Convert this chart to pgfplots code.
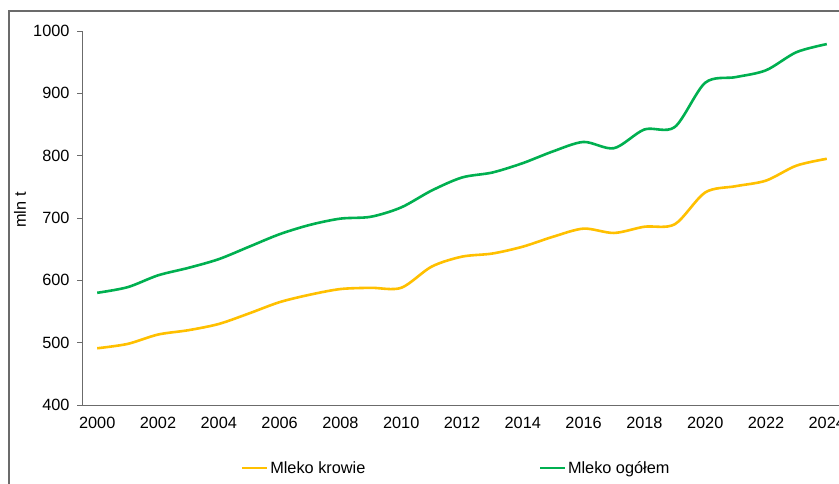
\documentclass[border=0pt]{standalone}
\usepackage{pgfplots}
\pgfplotsset{compat=1.18}
\usepackage{fontspec}
\setmainfont{Liberation Sans}
\definecolor{cowY}{HTML}{FFC000}
\definecolor{allG}{HTML}{00B050}
\definecolor{axgray}{HTML}{6B6B6B}
\pgfplotstableread{
year krowie ogolem
2000 491 580
2001 498 589
2002 513 608
2003 520 620
2004 530 634
2005 547 654
2006 565 674
2007 577 689
2008 586 699
2009 588 702
2010 588 717
2011 622 744
2012 638 765
2013 643 773
2014 654 788
2015 670 807
2016 683 822
2017 676 812
2018 686 842
2019 690 846
2020 741 917
2021 751 926
2022 760 937
2023 784 966
2024 795 979
}\milk
\begin{document}
\begin{tikzpicture}
\useasboundingbox (0,0) rectangle (839bp,484bp);
\fill[white] (0,0) rectangle (839bp,484bp);
\draw[axgray, line width=1.3bp] (9bp,-20bp) -- (9bp,473bp) -- (860bp,473bp);
\begin{axis}[
  at={(82bp,79bp)}, anchor=south west,
  scale only axis, width=760bp, height=374bp,
  xmin=1999.5, xmax=2024.5, ymin=400, ymax=1000,
  axis lines*=left,
  axis line style={axgray, line width=1bp},
  tick align=outside,
  font=\fontsize{16.3bp}{19bp}\selectfont,
  /pgf/number format/assume math mode=true,
  /pgf/number format/1000 sep={},
  xtick={2000,2002,...,2024},
  major x tick style={draw=none},
  extra x ticks={1999.5,2000.5,...,2024.5},
  extra x tick labels={},
  extra x tick style={major tick length=5bp, tick style={axgray, line width=1bp}},
  ytick={400,500,...,1000},
  major tick length=5bp,
  ytick style={axgray, line width=1bp},
  xticklabel style={yshift=-4bp},
  yticklabel style={xshift=-4bp},
  legend columns=2,
  legend style={at={(rel axis cs:0.2092,-0.1684)}, anchor=west, draw=none, fill=none,
    inner sep=0pt, nodes={inner sep=1.5bp},
    /tikz/every even column/.append style={column sep=172bp}},
  legend image code/.code={\draw[#1] (0bp,0bp) -- (25bp,0bp);},
]
\addplot[cowY, line width=2.6bp, smooth] table[x=year, y=krowie] {\milk};
\addlegendentry{Mleko krowie}
\addplot[allG, line width=2.6bp, smooth] table[x=year, y=ogolem] {\milk};
\addlegendentry{Mleko ogółem}
\end{axis}
\node[rotate=90, font=\fontsize{16.3bp}{19bp}\selectfont] at (20bp,274bp) {mln t};
\end{tikzpicture}
\end{document}
